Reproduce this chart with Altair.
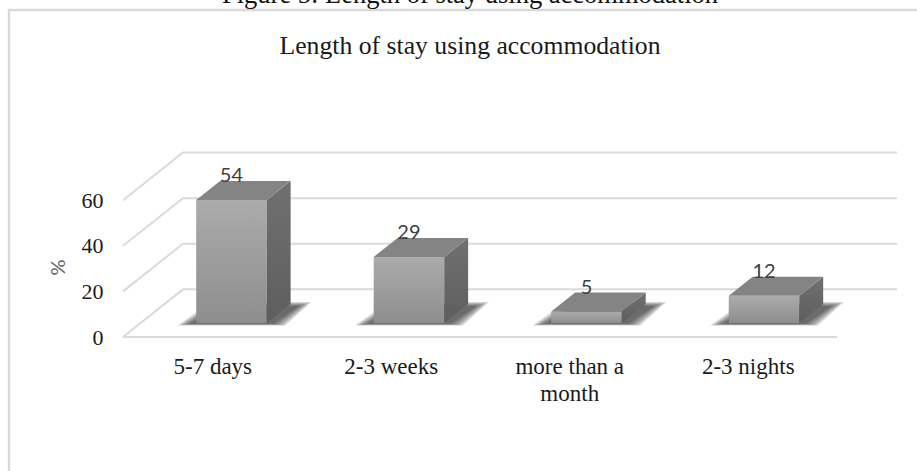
import json
import altair as alt
import pandas as pd

categories = ["5-7 days", "2-3 weeks", ["more than a", "month"], "2-3 nights"]
values = [54, 29, 5, 12]
y_ticks = [0, 20, 40, 60]

# Pseudo-3D geometry, in axis units
X_MAX, Y_MAX = 4.336, 80.7
GRID_DX, GRID_DY = 0.336, 20.9
BAR_LEFT, BAR_STEP, BAR_WIDTH, BAR_BASE = 0.41, 0.9945, 0.395, 6.14
DEPTH_X, DEPTH_Y = 0.134, 8.33
SERIF = "Liberation Serif"
SANS = "Lato"
GRID_COLOR = "#dadada"

x_scale = alt.Scale(domain=[0, X_MAX], nice=False, zero=False)
y_scale = alt.Scale(domain=[0, Y_MAX], nice=False, zero=False)


def bar_left(i):
    return BAR_LEFT + i * BAR_STEP


grid_rows = []
for t in y_ticks:
    grid_rows += [
        {"tick": t, "step": 0, "x": 0, "y": t},
        {"tick": t, "step": 1, "x": GRID_DX, "y": t + GRID_DY},
        {"tick": t, "step": 2, "x": X_MAX, "y": t + GRID_DY},
    ]
grid_df = pd.DataFrame(grid_rows)

label_expr = f"{json.dumps(categories)}[floor(datum.value)]"

grid = alt.Chart(grid_df).mark_line(color=GRID_COLOR, strokeWidth=2, clip=False).encode(
    x=alt.X(
        "x:Q", scale=x_scale, title=None,
        axis=alt.Axis(
            values=[i + 0.5 for i in range(len(categories))],
            labelExpr=label_expr, domain=False, ticks=False, grid=False,
            labelFont=SERIF, labelFontSize=23, labelColor="#1a1a1a",
            labelPadding=18, labelLineHeight=27, labelAngle=0,
        ),
    ),
    y=alt.Y(
        "y:Q", scale=y_scale, title="%",
        axis=alt.Axis(
            values=y_ticks, domain=False, ticks=False, grid=False,
            labelFont=SERIF, labelFontSize=22, labelColor="#1a1a1a",
            labelPadding=20,
            titleFont=SANS, titleFontSize=20, titleFontWeight="normal",
            titleColor="#666666", titleX=-55, titleY=114,
        ),
    ),
    detail="tick:N",
    order="step:Q",
)

floor_df = pd.DataFrame({"x": [0], "x2": [len(categories)], "y": [0]})
floor = alt.Chart(floor_df).mark_rule(color=GRID_COLOR, strokeWidth=2).encode(
    x=alt.X("x:Q", scale=x_scale), x2="x2:Q", y=alt.Y("y:Q", scale=y_scale)
)

# Soft floor shadows: nested parallelograms that darken towards the bar
shadow_layers = []
for step in range(7):
    inset = step * 0.012
    rows = []
    for i in range(len(values)):
        left = bar_left(i)
        rows += [
            {"bar": i, "y": 5.0 + inset * 12, "x": left - 0.105 + inset, "x2": left + 0.50 - inset},
            {"bar": i, "y": 15.3 - inset * 25, "x": left + 0.08 + inset, "x2": left + 0.645 - inset},
        ]
    shadow_layers.append(
        alt.Chart(pd.DataFrame(rows))
        .mark_area(orient="horizontal", color="#333333", opacity=0.17)
        .encode(
            x=alt.X("x:Q", scale=x_scale, stack=None),
            x2="x2:Q",
            y=alt.Y("y:Q", scale=y_scale),
            detail="bar:N",
        )
    )

front_df = pd.DataFrame([
    {"x": bar_left(i), "x2": bar_left(i) + BAR_WIDTH, "y": BAR_BASE, "y2": BAR_BASE + v}
    for i, v in enumerate(values)
])
side_df = pd.DataFrame([
    row for i, v in enumerate(values) for row in (
        {"bar": i, "x": bar_left(i) + BAR_WIDTH, "y": BAR_BASE, "y2": BAR_BASE + v},
        {"bar": i, "x": bar_left(i) + BAR_WIDTH + DEPTH_X, "y": BAR_BASE + DEPTH_Y, "y2": BAR_BASE + DEPTH_Y + v},
    )
])
top_df = pd.DataFrame([
    row for i, v in enumerate(values) for row in (
        {"bar": i, "y": BAR_BASE + v, "x": bar_left(i), "x2": bar_left(i) + BAR_WIDTH},
        {"bar": i, "y": BAR_BASE + v + DEPTH_Y, "x": bar_left(i) + DEPTH_X, "x2": bar_left(i) + BAR_WIDTH + DEPTH_X},
    )
])

# Each bar's faces are drawn as their own layer so gradients span that bar only
front_faces = []
side_faces = []
for i in range(len(values)):
    front_faces.append(
        alt.Chart(front_df.iloc[[i]]).mark_rect(
            color=alt.Gradient(
                gradient="linear", x1=0, y1=0, x2=0, y2=1,
                stops=[alt.GradientStop(color="#ababab", offset=0),
                       alt.GradientStop(color="#8e8e8e", offset=1)],
            )
        ).encode(
            x=alt.X("x:Q", scale=x_scale), x2="x2:Q",
            y=alt.Y("y:Q", scale=y_scale), y2="y2:Q",
        )
    )
    side_faces.append(
        alt.Chart(side_df[side_df.bar == i]).mark_area(
            color=alt.Gradient(
                gradient="linear", x1=0, y1=0, x2=0, y2=1,
                stops=[alt.GradientStop(color="#707070", offset=0),
                       alt.GradientStop(color="#5e5e5e", offset=1)],
            )
        ).encode(
            x=alt.X("x:Q", scale=x_scale),
            y=alt.Y("y:Q", scale=y_scale, stack=None), y2="y2:Q",
        )
    )

top_faces = alt.Chart(top_df).mark_area(orient="horizontal", color="#848484").encode(
    x=alt.X("x:Q", scale=x_scale, stack=None),
    x2="x2:Q",
    y=alt.Y("y:Q", scale=y_scale),
    detail="bar:N",
)

label_df = pd.DataFrame({
    "x": [bar_left(i) + BAR_WIDTH / 2 for i in range(len(values))],
    "y": [BAR_BASE + v + 11 for v in values],
    "value": values,
})
value_labels = alt.Chart(label_df).mark_text(
    font=SANS, fontSize=20, color="#404040", dy=1
).encode(
    x=alt.X("x:Q", scale=x_scale), y=alt.Y("y:Q", scale=y_scale), text="value:Q"
)

# Page furniture: caption clipped by the top edge and the chart frame
caption = alt.Chart(pd.DataFrame({"t": ["Figure 5: Length of stay using accommodation"]})).mark_text(
    font=SERIF, fontSize=26.5, color="#111111", baseline="alphabetic"
).encode(x=alt.value(347), y=alt.value(-150), text="t:N")
frame_top = alt.Chart(pd.DataFrame({"a": [0]})).mark_rule(color="#d9d9d9", strokeWidth=2.5).encode(
    x=alt.value(-115), x2=alt.value(794), y=alt.value(-143)
)
frame_left = alt.Chart(pd.DataFrame({"a": [0]})).mark_rule(color="#d9d9d9", strokeWidth=2.5).encode(
    x=alt.value(-114), y=alt.value(-143), y2=alt.value(318)
)
chart_title = alt.Chart(pd.DataFrame({"t": ["Length of stay using accommodation"]})).mark_text(
    font=SERIF, fontSize=25.7, color="#1a1a1a"
).encode(x=alt.value(347), y=alt.value(-107), text="t:N")

chart = alt.layer(
    frame_top, frame_left, caption, chart_title, grid, floor,
    *shadow_layers, *front_faces, *side_faces, top_faces, value_labels,
).properties(
    width=774, height=184,
    autosize=alt.AutoSizeParams(type="none"),
    padding={"left": 123, "top": 153, "right": 20, "bottom": 134},
    background="white",
).configure_view(stroke=None)

chart.save("out.html", embed_options={"renderer": "svg", "actions": False})
